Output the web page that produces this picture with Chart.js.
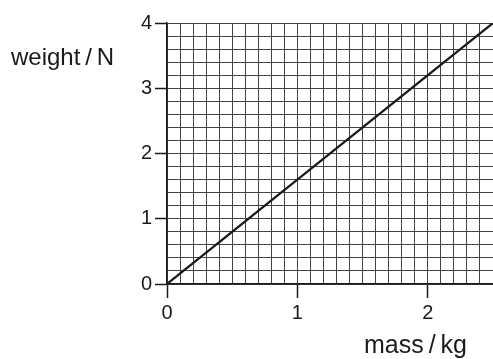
<!DOCTYPE html>
<html>
<head>
<meta charset="utf-8">
<script src="https://cdn.jsdelivr.net/npm/chart.js@4"></script>
<style>
  html, body { margin: 0; padding: 0; background: #fff; }
  #wrap { width: 493px; height: 359px; position: relative; }
</style>
</head>
<body>
<div id="wrap"><canvas id="graph"></canvas></div>
<script>
// weight against mass, straight line through the origin
const massKg = [0, 2.5];
const weightN = [0, 4];
const xRange = [0, 2.5];
const yRange = [0, 4];
const xLabelText = "mass\u2009/\u2009kg";
const yLabelText = "weight\u2009/\u2009N";

const isWhole = (v) => Math.abs(v - Math.round(v)) < 1e-6;
const FONT = "'Liberation Sans', Arial, sans-serif";

// axis quantity labels sit horizontally, so draw them by hand
const axisLabels = {
  id: "axisLabels",
  afterDraw(chart) {
    const c = chart.ctx;
    c.save();
    c.fillStyle = "#1c1a1b";
    c.textBaseline = "alphabetic";
    c.font = "24px " + FONT;
    c.textAlign = "left";
    c.fillText(yLabelText, 11, 65);
    c.font = "25px " + FONT;
    c.textAlign = "right";
    c.fillText(xLabelText, 467, 353);
    c.restore();
  },
};

const points = massKg.map((m, i) => ({ x: m, y: weightN[i] }));

new Chart(document.getElementById("graph"), {
  type: "line",
  data: {
    datasets: [
      {
        data: points,
        borderColor: "#1a1a1a",
        borderWidth: 2.2,
        pointRadius: 0,
        tension: 0,
      },
    ],
  },
  options: {
    responsive: true,
    maintainAspectRatio: false,
    animation: false,
    layout: { padding: { top: 23, right: 0, left: 0, bottom: 0 } },
    scales: {
      x: {
        type: "linear",
        min: xRange[0],
        max: xRange[1],
        afterFit(scale) {
          scale.height = 75;
          scale.paddingRight = 0;
          scale.paddingLeft = 0;
        },
        border: { display: true, color: "#1a1a1a", width: 1.5 },
        grid: {
          color: "#444",
          lineWidth: 1,
          tickLength: 14,
          tickColor: (ctx) => (isWhole(ctx.tick.value) ? "#1a1a1a" : "rgba(0,0,0,0)"),
          tickWidth: 1.5,
        },
        ticks: {
          stepSize: 0.1,
          autoSkip: false,
          maxTicksLimit: 100,
          maxRotation: 0,
          padding: 3,
          color: "#1c1a1b",
          font: { size: 20, family: FONT },
          callback: (v) => (isWhole(v) ? String(Math.round(v)) : ""),
        },
      },
      y: {
        type: "linear",
        min: yRange[0],
        max: yRange[1],
        afterFit(scale) { scale.width = 167; },
        border: { display: true, color: "#1a1a1a", width: 1.5 },
        grid: {
          color: "#444",
          lineWidth: 1,
          tickLength: 12,
          tickColor: (ctx) => (isWhole(ctx.tick.value) ? "#1a1a1a" : "rgba(0,0,0,0)"),
          tickWidth: 1.5,
        },
        ticks: {
          stepSize: 0.2,
          autoSkip: false,
          maxTicksLimit: 100,
          padding: 3,
          color: "#1c1a1b",
          font: { size: 20, family: FONT },
          callback: (v) => (isWhole(v) ? String(Math.round(v)) : ""),
        },
      },
    },
    plugins: {
      legend: { display: false },
      tooltip: { enabled: false },
    },
  },
  plugins: [axisLabels],
});
</script>
</body>
</html>
